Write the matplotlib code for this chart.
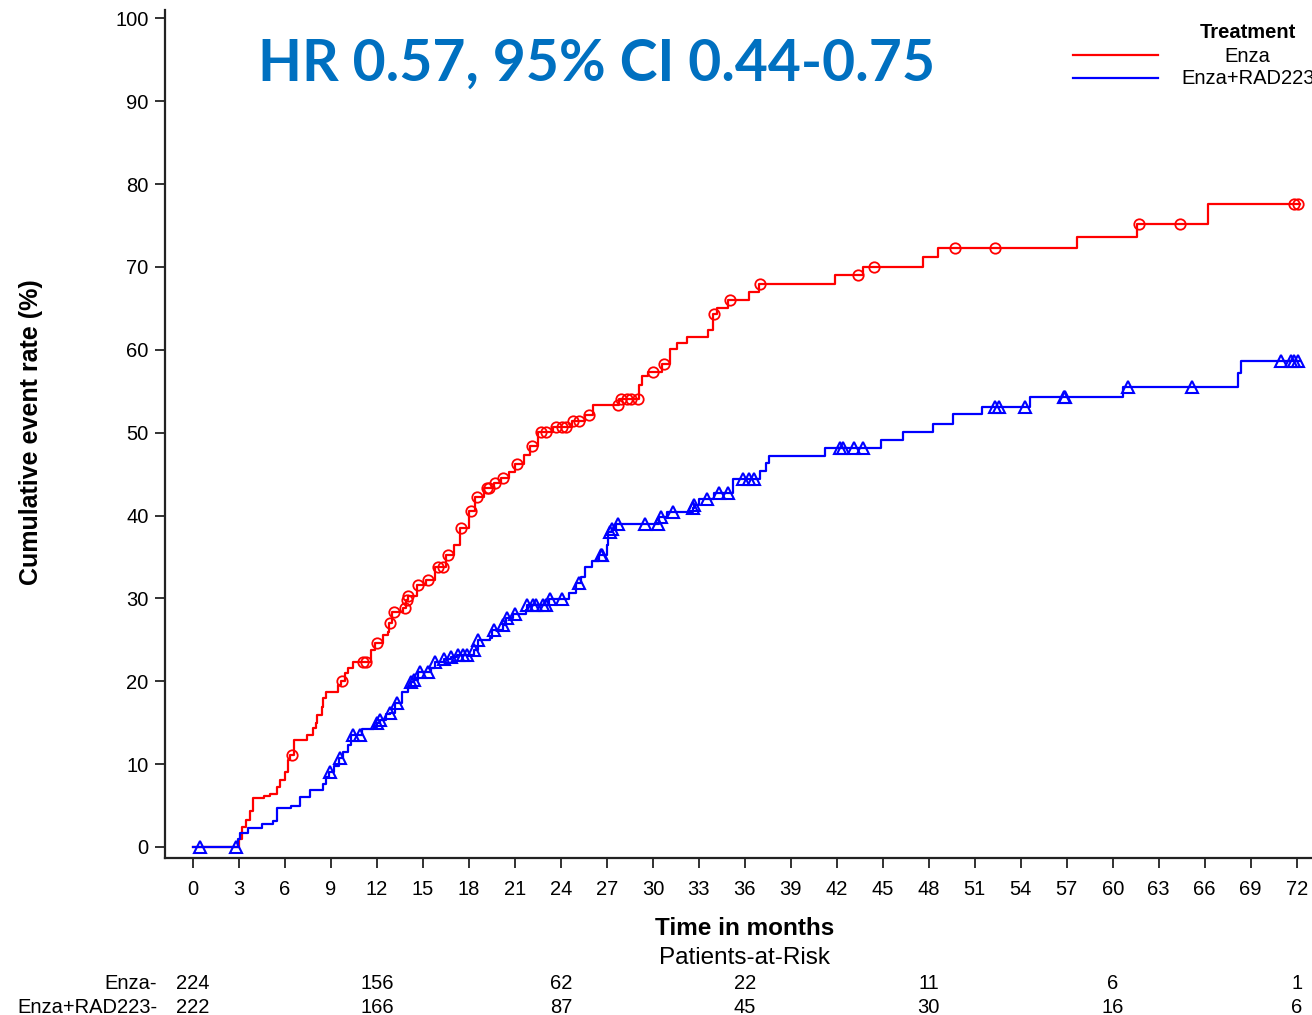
import numpy as np
import matplotlib.pyplot as plt
from matplotlib.lines import Line2D
from matplotlib.transforms import blended_transform_factory

plt.rcParams['font.family'] = ['Liberation Sans', 'DejaVu Sans']

# cumulative event rate steps (month, % after the step)
enza_t = [0, 3.0, 3.2, 3.45, 3.7, 3.9, 4.6, 5.0, 5.5, 5.7, 6.0, 6.2, 6.35, 6.6, 7.4, 7.8, 8.0,
          8.1, 8.4, 8.5, 8.7, 9.45, 9.65, 9.9, 10.1, 10.4, 11.6, 11.9, 12.4, 12.7, 12.8, 13.0,
          13.7, 13.9, 14.0, 14.6, 15.2, 15.8, 16.5, 17.0, 17.4, 18.0, 18.4, 19.0, 19.6, 20.1,
          20.6, 21.0, 21.6, 22.0, 22.5, 23.5, 24.7, 25.6, 26.1, 27.8, 29.1, 29.3, 29.7, 30.6,
          31.1, 31.6, 32.2, 33.6, 33.9, 34.2, 34.9, 36.3, 36.9, 41.9, 43.7, 47.6, 48.6, 57.7,
          61.6, 66.2, 72.2]
enza_v = [0, 1.0, 2.4, 3.3, 4.3, 5.9, 6.1, 6.4, 7.2, 8.1, 9.0, 10.5, 11.1, 12.9, 13.5, 14.3, 15.0,
          15.9, 16.9, 18.0, 18.7, 19.5, 20.0, 21.0, 21.6, 22.3, 23.8, 24.6, 25.6, 26.0, 27.0, 28.3,
          28.8, 29.8, 30.3, 31.6, 32.2, 33.8, 35.2, 36.5, 38.5, 40.5, 42.2, 43.3, 43.9, 44.5,
          45.3, 46.2, 47.3, 48.4, 50.1, 50.7, 51.4, 52.1, 53.4, 54.1, 55.7, 56.8, 57.3, 58.3,
          60.1, 60.8, 61.5, 62.4, 64.3, 65.1, 66.0, 67.0, 67.9, 69.0, 70.0, 71.2, 72.3, 73.6,
          75.2, 77.6, 77.6]
enza_cens = [6.45, 9.7, 11.1, 11.3, 12.0, 12.85, 13.1, 13.8, 13.95, 14.05, 14.7, 15.3, 16.0,
             16.3, 16.6, 17.5, 18.1, 18.5, 19.2, 19.3, 19.7, 20.2, 21.1, 22.1, 22.7, 23.0, 23.7,
             24.1, 24.3, 24.8, 25.2, 25.8, 27.7, 27.9, 28.3, 28.6, 29.0, 30.0, 30.7, 34.0, 35.0,
             37.0, 43.4, 44.4, 49.7, 52.3, 61.7, 64.4, 71.8, 72.1]

rad_t = [0, 2.95, 3.05, 3.6, 4.5, 5.2, 5.45, 5.5, 6.4, 7.0, 7.6, 8.5, 8.7, 8.85, 9.2, 9.5, 9.8,
         10.1, 10.3, 11.0, 11.8, 12.0, 12.2, 12.6, 12.85, 13.2, 13.6, 14.0, 14.2, 14.4, 14.7,
         15.5, 15.8, 16.4, 16.8, 17.2, 18.3, 18.6, 19.4, 19.5, 20.2, 20.4, 20.9, 21.7, 21.8,
         23.2, 24.5, 25.0, 25.3, 25.6, 26.0, 26.5, 27.0, 27.1, 27.3, 27.6, 30.4, 30.9, 32.6,
         32.7, 33.0, 34.0, 35.2, 37.0, 37.4, 37.6, 41.2, 44.9, 46.3, 48.3, 49.6, 51.5, 54.6,
         60.7, 68.2, 68.4, 72.2]
rad_v = [0, 1.0, 1.7, 2.3, 2.8, 3.1, 4.1, 4.7, 4.95, 6.0, 6.9, 7.6, 8.4, 9.0, 9.8, 10.7, 11.5,
         12.3, 13.5, 14.2, 14.5, 15.0, 15.3, 16.0, 16.2, 17.4, 18.7, 19.3, 19.9, 20.1, 21.1,
         21.6, 22.3, 22.7, 22.9, 23.2, 23.8, 25.0, 25.2, 26.2, 26.8, 27.6, 28.1, 28.6, 29.2,
         29.9, 30.6, 31.8, 32.6, 33.8, 34.5, 35.2, 36.5, 38.0, 38.4, 39.0, 39.8, 40.4, 40.9,
         41.3, 42.0, 42.7, 44.4, 45.4, 46.3, 47.2, 48.1, 49.1, 50.1, 51.1, 52.2, 53.1, 54.3,
         55.5, 57.2, 58.7, 58.7]
rad_cens = [0.45, 2.8, 8.9, 9.6, 10.4, 10.9, 12.0, 12.2, 12.85, 13.3, 14.2, 14.4, 14.8, 15.3,
            15.8, 16.4, 16.8, 17.3, 17.6, 17.9, 18.3, 18.6, 19.6, 20.2, 20.5, 21.0, 21.8, 22.2,
            22.4, 22.8, 23.0, 23.3, 24.1, 25.2, 26.6, 26.7, 27.2, 27.3, 27.7, 29.5, 30.3, 30.5,
            31.3, 32.6, 32.7, 33.5, 34.3, 34.9, 35.9, 36.3, 36.6, 42.2, 42.4, 43.1, 43.7, 52.3,
            52.6, 54.3, 56.8, 56.9, 61.0, 65.2, 71.0, 71.6, 71.8, 72.1]

risk_months = [0, 12, 24, 36, 48, 60, 72]
risk_enza = [224, 156, 62, 22, 11, 6, 1]
risk_rad = [222, 166, 87, 45, 30, 16, 6]


def at(t, v, c):
    t = np.asarray(t)
    idx = np.searchsorted(t, c, side='right') - 1
    return np.asarray(v)[idx]


fig = plt.figure(figsize=(13.12, 10.15), dpi=100)
ax = fig.add_axes([0.1258, 0.1547, 0.8742, 0.8353])

ax.step(enza_t, enza_v, where='post', color='#ff0000', lw=1.6)
ax.step(rad_t, rad_v, where='post', color='#0000ff', lw=1.6)
ax.plot(enza_cens, at(enza_t, enza_v, enza_cens), 'o', ms=7.5, mfc='none',
        mec='#ff0000', mew=1.3)
ax.plot(rad_cens, at(rad_t, rad_v, rad_cens), '^', ms=8, mfc='none',
        mec='#0000ff', mew=1.5)

ax.set_xlim(-1.83, 73.0)
ax.set_ylim(-1.33, 101.0)
ax.set_xticks(np.arange(0, 73, 3))
ax.set_yticks(np.arange(0, 101, 10))
ax.tick_params(axis='both', labelsize=14.5, length=7, width=1.3, color='#222222')
ax.tick_params(axis='x', pad=9)
ax.tick_params(axis='y', pad=5)
for s in ['top', 'right']:
    ax.spines[s].set_visible(False)
for s in ['left', 'bottom']:
    ax.spines[s].set_linewidth(1.6)
    ax.spines[s].set_color('#222222')

fig.text(0.0235, 0.574, 'Cumulative event rate (%)', rotation=90, fontsize=18,
         fontweight='bold', ha='center', va='center')

tr = blended_transform_factory(ax.transData, fig.transFigure)
ax.text(36, 0.0857, 'Time in months', transform=tr, ha='center', va='center',
        fontsize=17.5, fontweight='bold')
ax.text(36, 0.0562, 'Patients-at-Risk', transform=tr, ha='center', va='center',
        fontsize=17.5)
for m, a, b in zip(risk_months, risk_enza, risk_rad):
    ax.text(m, 0.0315, str(a), transform=tr, ha='center', va='center', fontsize=14.5)
    ax.text(m, 0.0069, str(b), transform=tr, ha='center', va='center', fontsize=14.5)
fig.text(0.1197, 0.0315, 'Enza-', ha='right', va='center', fontsize=14.5)
fig.text(0.1197, 0.0069, 'Enza+RAD223-', ha='right', va='center', fontsize=14.5)

fig.text(0.1966, 0.937, 'HR 0.57, 95% CI 0.44-0.75', color='#0070c0', fontsize=41,
         fontweight='bold', family=['Lato', 'DejaVu Sans'], ha='left', va='center')

# legend
fig.text(0.951, 0.9675, 'Treatment', ha='center', va='center', fontsize=14.5, fontweight='bold')
fig.text(0.951, 0.9448, 'Enza', ha='center', va='center', fontsize=14.5)
fig.text(0.951, 0.9222, 'Enza+RAD223', ha='center', va='center', fontsize=14.5)
fig.add_artist(Line2D([0.818, 0.883], [0.9458, 0.9458], color='#ff0000', lw=1.6))
fig.add_artist(Line2D([0.818, 0.883], [0.9232, 0.9232], color='#0000ff', lw=1.6))

fig.savefig('out.png', dpi=100)
